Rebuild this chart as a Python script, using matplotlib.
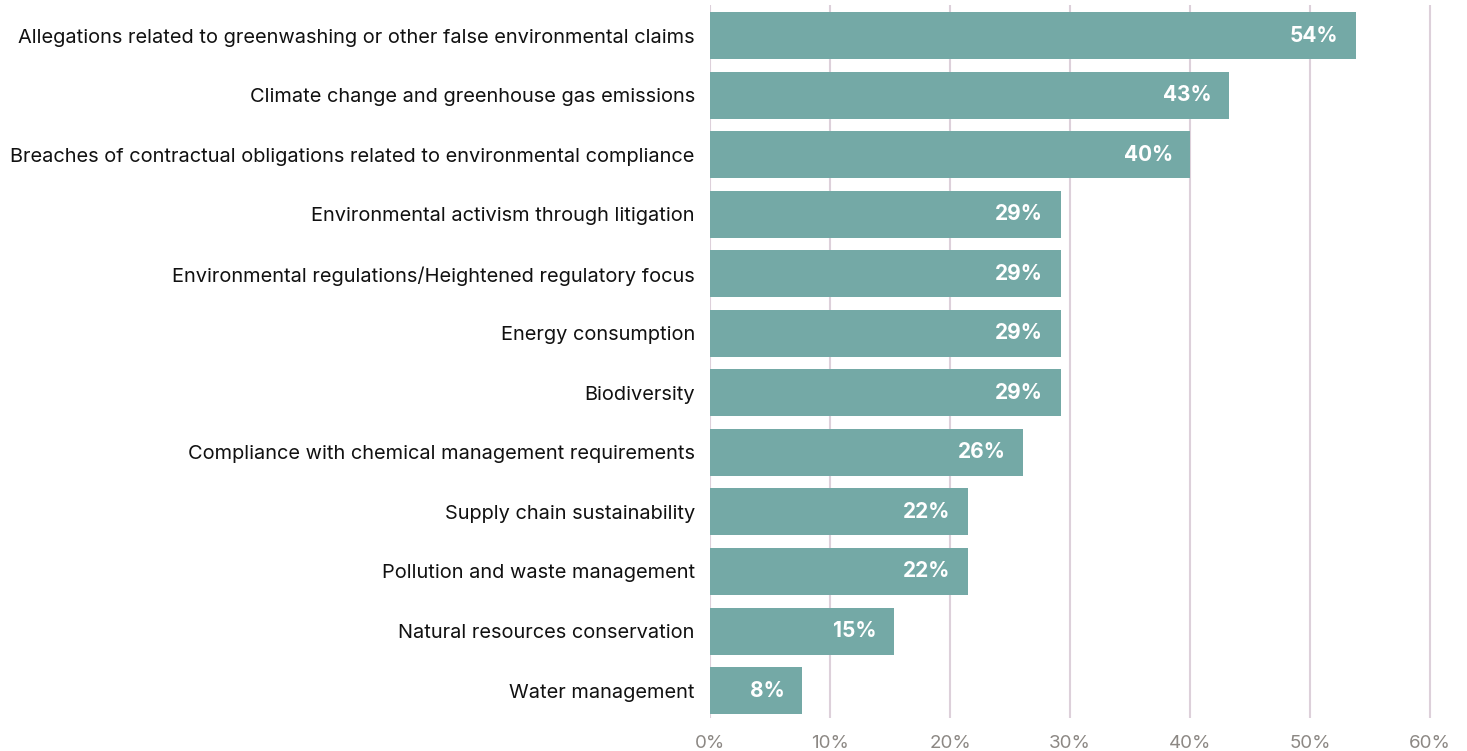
import matplotlib.pyplot as plt
from matplotlib.ticker import FuncFormatter

plt.rcParams['font.family'] = ['Inter', 'DejaVu Sans']

categories = [
    'Allegations related to greenwashing or other false environmental claims',
    'Climate change and greenhouse gas emissions',
    'Breaches of contractual obligations related to environmental compliance',
    'Environmental activism through litigation',
    'Environmental regulations/Heightened regulatory focus',
    'Energy consumption',
    'Biodiversity',
    'Compliance with chemical management requirements',
    'Supply chain sustainability',
    'Pollution and waste management',
    'Natural resources conservation',
    'Water management',
]
values = [53.8, 43.2, 40.0, 29.2, 29.2, 29.2, 29.2, 26.1, 21.5, 21.5, 15.3, 7.7]
labels = ['54%', '43%', '40%', '29%', '29%', '29%', '29%', '26%', '22%', '22%', '15%', '8%']

bar_color = '#74a9a6'
grid_color = '#ddd0da'

fig = plt.figure(figsize=(14.67, 7.51), dpi=100)
ax = fig.add_axes([0.484, 0.044, 0.495, 0.949])

y = range(len(categories))
ax.barh(y, values, height=0.79, color=bar_color, zorder=2)
for i, (v, lab) in enumerate(zip(values, labels)):
    ax.text(v - 1.45, i, lab, ha='right', va='center', color='white',
            fontsize=15, fontweight='bold', zorder=3)

ax.set_yticks(list(y))
ax.set_yticklabels(categories, fontsize=14.4, color='#111111')
for t in ax.get_yticklabels():
    t.set_verticalalignment('center_baseline')
ax.set_ylim(11.46, -0.51)
ax.set_xlim(0, 60.5)
ax.set_xticks(range(0, 61, 10))
ax.xaxis.set_major_formatter(FuncFormatter(lambda v, p: '%d%%' % v))
ax.tick_params(axis='x', colors='#8c8884', labelsize=13.5, length=0, pad=12)
ax.tick_params(axis='y', length=0, pad=11)
ax.grid(axis='x', color=grid_color, linewidth=1.5, zorder=0)
for s in ax.spines.values():
    s.set_visible(False)

fig.savefig('out.png', dpi=100)
